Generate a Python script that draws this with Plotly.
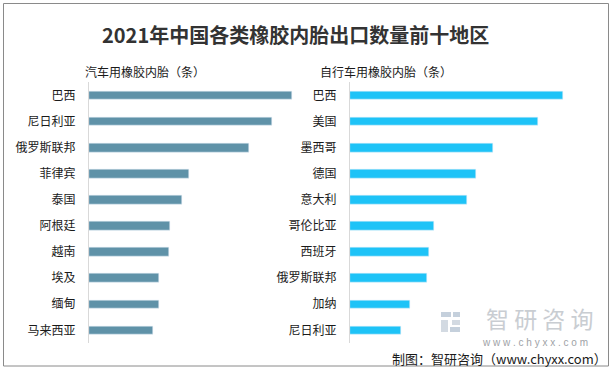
import plotly.graph_objects as go

W, H = 612, 369

car_regions = ["巴西", "尼日利亚", "俄罗斯联邦", "菲律宾", "泰国", "阿根廷", "越南", "埃及", "缅甸", "马来西亚"]
car_values = [203, 183, 160, 100, 93, 81, 80, 70, 70, 64]

bike_regions = ["巴西", "美国", "墨西哥", "德国", "意大利", "哥伦比亚", "西班牙", "俄罗斯联邦", "加纳", "尼日利亚"]
bike_values = [213, 188, 143, 126, 117, 84, 79, 77, 60, 51]

title_text = "2021年中国各类橡胶内胎出口数量前十地区"
left_sub = "汽车用橡胶内胎（条）"
right_sub = "自行车用橡胶内胎（条）"
source_text = "制图：智研咨询（www.chyxx.com）"
wm_name = "智 研 咨 询"
wm_url = "w w w . c h y x x . c o m"

FONT = "Noto Sans CJK SC"

def px(x):
    return x / W

def py(y):
    return 1 - y / H

fig = go.Figure()
fig.add_trace(go.Bar(x=car_values, y=car_regions, orientation="h", marker_color="#5f92a8",
                     width=0.33, xaxis="x", yaxis="y", hoverinfo="x+y"))
fig.add_trace(go.Bar(x=bike_values, y=bike_regions, orientation="h", marker_color="#1ec3f7",
                     width=0.33, xaxis="x2", yaxis="y2", hoverinfo="x+y"))

ydom = [py(343.4), py(82.4)]
common_y = dict(domain=ydom, autorange="reversed", showline=True, linecolor="#d9d9d9", linewidth=1,
                showgrid=False, zeroline=False, ticks="", ticklabelstandoff=10,
                tickfont=dict(family=FONT, size=12, color="#1a1a1a"), type="category")
common_x = dict(showgrid=False, zeroline=False, showticklabels=False, showline=False, ticks="")

fig.update_layout(
    width=W, height=H,
    margin=dict(l=0, r=0, t=0, b=0),
    paper_bgcolor="white", plot_bgcolor="white",
    showlegend=False,
    bargap=0,
    xaxis=dict(domain=[px(89), px(300)], range=[0, 211], anchor="y", **common_x),
    yaxis=dict(anchor="x", **common_y),
    xaxis2=dict(domain=[px(350), px(600)], range=[0, 250], anchor="y2", **common_x),
    yaxis2=dict(anchor="x2", **common_y),
    font=dict(family=FONT),
)

annotations = [
    dict(text="<b>" + title_text + "</b>", x=px(295), y=py(34), xanchor="center", yanchor="middle",
         font=dict(family=FONT, size=20, color="#333333")),
    dict(text=left_sub, x=px(83), y=py(72), xanchor="left", yanchor="middle",
         font=dict(family=FONT, size=12, color="#1a1a1a")),
    dict(text=right_sub, x=px(318), y=py(72), xanchor="left", yanchor="middle",
         font=dict(family=FONT, size=12, color="#1a1a1a")),
    dict(text=wm_name, x=px(595), y=py(318), xanchor="right", yanchor="middle",
         font=dict(family=FONT, size=23, color="#c9cdd2")),
    dict(text=wm_url, x=px(590), y=py(342), xanchor="right", yanchor="middle",
         font=dict(family="Arial, Liberation Sans, sans-serif", size=10, color="#9ea2a6")),
    dict(text=source_text, x=px(609), y=py(358), xanchor="right", yanchor="middle",
         font=dict(family=FONT, size=13, color="#1a1a1a")),
]
for a in annotations:
    a.update(xref="paper", yref="paper", showarrow=False)
fig.update_layout(annotations=annotations)

shapes = [
    dict(type="rect", x0=px(3.5), x1=px(608.5), y0=py(366), y1=py(3.5), line=dict(color="#8a8a8a", width=1),
         fillcolor="rgba(0,0,0,0)"),
    # watermark logo approximation
    dict(type="rect", x0=px(441), x1=px(451), y0=py(317), y1=py(312), fillcolor="#c5d0dc", line_width=0),
    dict(type="rect", x0=px(453), x1=px(460), y0=py(317), y1=py(312), fillcolor="#c5d0dc", line_width=0),
    dict(type="rect", x0=px(441), x1=px(448), y0=py(332), y1=py(320), fillcolor="#d3dae2", line_width=0),
    dict(type="rect", x0=px(450), x1=px(460), y0=py(332), y1=py(327), fillcolor="#c5d0dc", line_width=0),
    dict(type="rect", x0=px(452), x1=px(460), y0=py(325), y1=py(320), fillcolor="#d3dae2", line_width=0),
]
for s in shapes:
    s.update(xref="paper", yref="paper", layer="above")
fig.update_layout(shapes=shapes)

fig.write_html("out.html", config={"displayModeBar": False},
               post_script="document.body.style.margin='0';document.body.style.overflow='hidden';")
